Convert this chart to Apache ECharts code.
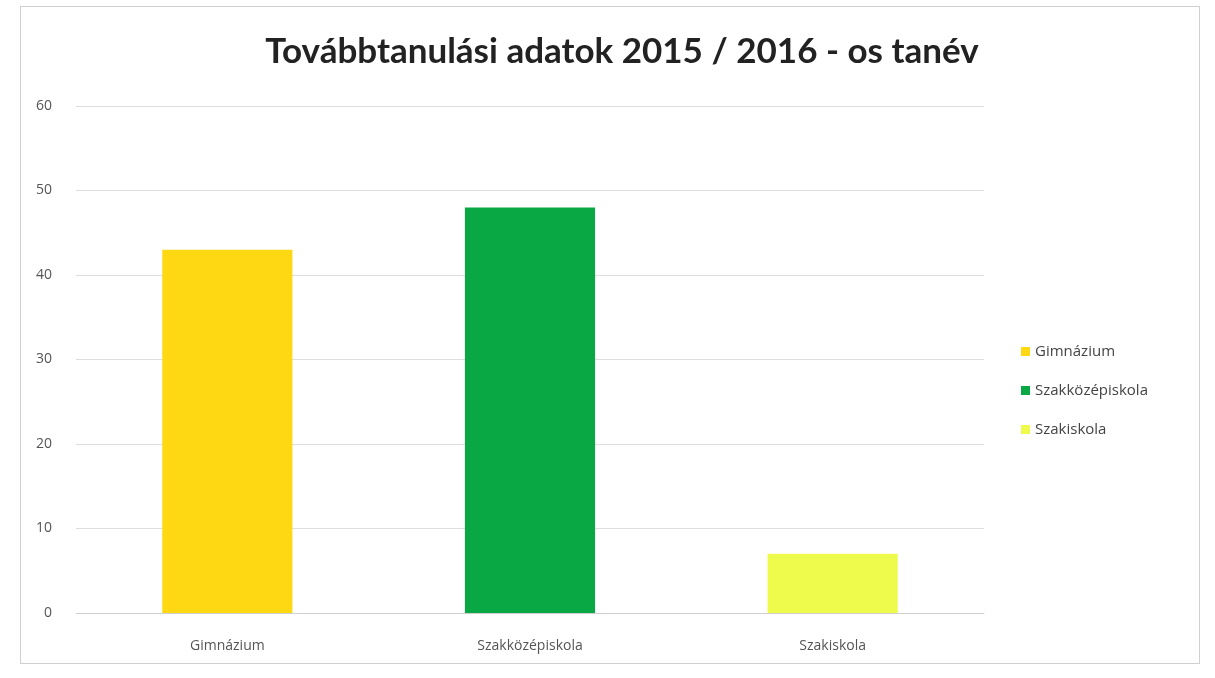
<!DOCTYPE html>
<html>
<head>
<meta charset="utf-8">
<script src="https://cdn.jsdelivr.net/npm/echarts@6/dist/echarts.min.js"></script>
<style>
  html, body { margin: 0; padding: 0; background: #fff; }
  #main { position: absolute; left: 20px; top: 6px; width: 1180px; height: 658px; border: 1px solid #d0d0d0; box-sizing: border-box; }
</style>
</head>
<body>
<div id="main"></div>
<script>
// adatok
var categories = ['Gimnázium', 'Szakközépiskola', 'Szakiskola'];
var values = [43, 48, 7];
var colors = ['#ffd814', '#0aa845', '#eefb4c'];

var chart = echarts.init(document.getElementById('main'));

// minden kategória külön sorozat, hogy legyen jelmagyarázat
var series = categories.map(function (name, i) {
    var data = categories.map(function (c, j) { return j === i ? values[i] : '-'; });
    return {
        name: name,
        type: 'bar',
        stack: 'all',
        barWidth: '43%',
        itemStyle: { color: colors[i] },
        data: data
    };
});

var option = {
    title: {
        text: 'Továbbtanulási adatok 2015 / 2016 - os tanév',
        left: 596,
        textAlign: 'center',
        top: 22,
        textStyle: { fontFamily: 'Lato', fontWeight: 'bold', fontSize: 35, color: '#222' }
    },
    legend: {
        orient: 'vertical',
        left: 995,
        top: 332,
        itemWidth: 9,
        itemHeight: 9,
        itemGap: 24,
        icon: 'rect',
        textStyle: { fontFamily: 'Open Sans', fontSize: 15, color: '#444' },
        data: categories
    },
    grid: { left: 55, right: 215, top: 99, bottom: 50 },
    xAxis: {
        type: 'category',
        data: categories,
        axisTick: { show: false },
        axisLine: { lineStyle: { color: '#cfcfcf' } },
        axisLabel: { fontFamily: 'Open Sans', fontSize: 14, color: '#555', margin: 26 }
    },
    yAxis: {
        type: 'value',
        min: 0,
        max: 60,
        interval: 10,
        axisLine: { show: false },
        axisLabel: { fontFamily: 'Open Sans', fontSize: 14, color: '#555', margin: 24 },
        splitLine: { lineStyle: { color: '#dedede' } }
    },
    series: series
};

chart.setOption(option);
</script>
</body>
</html>
